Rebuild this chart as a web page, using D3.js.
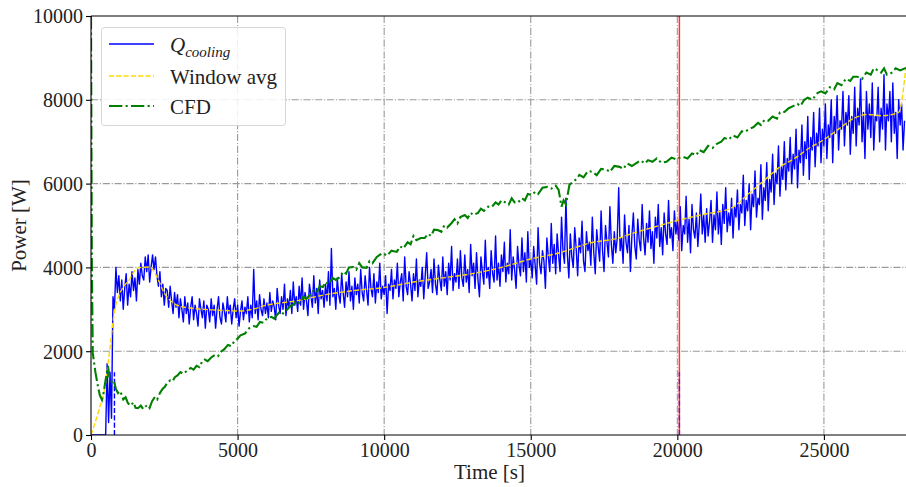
<!DOCTYPE html>
<html>
<head>
<meta charset="utf-8">
<script src="https://cdnjs.cloudflare.com/ajax/libs/d3/7.8.5/d3.min.js"></script>
<style>
  body { margin: 0; background: #fff; }
  svg text { font-family: "Liberation Serif", "DejaVu Serif", serif; fill: #222; }
</style>
</head>
<body>
<script>
// ---- data ----
var xTicks = [0, 5000, 10000, 15000, 20000, 25000];
var yTicks = [0, 2000, 4000, 6000, 8000, 10000];

// Q_cooling, sampled every 50 s starting at t = 0 (one row = 1000 s)
var qStart = 0, qStep = 50;
var qCooling = [
  0,0,0,0,0,0,0,0,0,0,0,1700,300,1500,400,3300,3000,4000,3400,3800,
  3200,3700,3000,3500,3850,3100,3600,3300,3900,3450,3750,3200,3950,3600,4100,3800,3700,4250,3900,4300,
  3650,4000,4300,3950,4250,3800,3550,3900,3300,3600,3100,3500,3450,3050,3550,3200,2900,3400,3050,3350,
  2800,3250,3000,2700,3300,2900,3150,2650,3050,3300,2750,3100,2900,2600,3250,3000,2800,3200,2550,3100,
  3000,2700,3250,2850,3100,2550,3000,3300,2800,2650,3150,2950,2700,3300,2900,3100,2650,3000,3250,2800,
  3100,2600,2950,3200,2750,3050,2900,3300,2700,3100,2800,3950,2900,3200,2750,3350,3000,2850,3250,2900,
  3150,2800,3400,2950,3200,3050,2750,3500,3100,2900,3300,3000,3600,2850,3250,3050,3450,2900,3650,3100,
  3300,2950,3550,3100,3750,3000,3400,3200,2850,3600,3350,3050,3800,3150,3500,2900,3700,3250,3450,3050,
  3600,3200,3900,3100,4450,3300,3500,3000,3750,3350,3150,3850,3400,3050,3650,3300,3900,3200,3550,3000,
  3750,3350,3600,3150,3950,3400,3200,3800,3450,3100,4000,3500,3300,3850,3150,3650,3400,4100,3250,3550,
  3350,3800,2900,3600,3450,3950,3250,3700,3500,4100,3300,3650,3850,3200,4250,3550,3350,3900,3600,3200,
  3850,3450,4200,3300,3700,3550,4000,3250,3800,4350,3500,3650,3950,3400,4200,3600,3350,4050,3700,3450,
  4250,3550,3900,3350,4100,3700,4500,3450,3850,3650,4200,3500,4400,3750,3550,4300,3650,3950,3400,4550,
  3800,4100,3500,4350,3700,3300,4250,3900,3600,4650,3750,4000,3500,4400,3850,3650,4750,3700,4100,3550,
  4300,3900,4600,3650,4100,3850,4900,3700,4250,3950,3500,4500,4050,3800,4700,3900,4350,3650,4850,4000,
  4200,3750,4500,4050,3600,4950,4100,3850,4400,4150,3500,4700,4250,3900,5050,4100,4550,3850,4800,4300,
  3900,5200,4400,4100,5650,4300,3750,4800,4250,4000,4950,4450,3800,4700,4350,5100,4150,3900,4850,4400,
  4600,4050,5200,4350,3850,4900,4500,4150,5350,4400,3900,5000,4600,4250,5450,4550,4100,4850,4350,4700,
  5900,4400,4700,4100,5250,4600,4350,5000,3900,4750,5300,4500,4200,5150,4650,4400,5500,4700,4300,5050,
  4600,5350,4450,4850,4100,5200,4700,5500,4500,4950,4300,5300,4800,4550,5600,4700,4950,4400,5350,4800,
  5100,4650,5450,4400,5000,4800,5700,4600,5150,4350,5500,4900,4700,5300,4500,5050,5750,4800,5250,4600,
  5400,4750,5100,5600,4600,5250,4900,5800,4800,5350,4550,5500,5050,5900,4850,5300,5000,5650,4700,5450,
  5200,5850,4900,5500,5300,6200,5000,5600,5350,6000,4900,5750,5450,6300,5200,5650,5500,6450,5150,5900,
  5600,6500,5350,6100,5800,6700,5500,6250,6000,6900,5700,6400,6100,7000,5850,6600,6300,7100,6000,6700,
  6350,7300,5900,6800,6500,7400,6200,7000,6600,7600,6100,7100,6800,7700,6400,7200,6900,7800,6500,7300,
  6900,7900,6600,7400,7100,8000,6500,7600,7200,8100,6800,7500,7300,8200,6900,7700,7400,8100,6700,7600,
  7200,8300,6900,7800,7400,8500,7000,7700,6600,8200,7300,7900,7100,8400,6800,7600,7500,8300,7000,7800,
  7300,8600,6800,7900,7500,8200,7000,8400,7200,7700,6600,8000,7400,7900,6800,7500
];

var avgTime = [0, 250, 500, 650, 800, 1000, 1300, 1600, 2000, 2250, 2500, 2850, 3200, 4300, 5100, 5500, 6000, 7000, 8000, 9000, 10000, 11000, 12000, 13000, 14000, 15000, 16000, 17000, 18000, 18500, 19400, 20000, 21000, 21800, 22500, 23000, 23500, 24000, 24500, 25000, 25500, 26000, 26500, 27000, 27550, 27800];
var avgPower = [0, 550, 1250, 2100, 2950, 3400, 3700, 3990, 4010, 3770, 3390, 3130, 3050, 2980, 2960, 3000, 3100, 3200, 3350, 3450, 3520, 3650, 3750, 3850, 4000, 4200, 4350, 4580, 4700, 4820, 5000, 5120, 5280, 5400, 5800, 6100, 6400, 6600, 6850, 7050, 7300, 7550, 7650, 7620, 7700, 8800];

// CFD as [time, power]
var cfdPoints = [
  [0,10000],[30,4000],[60,1960],[150,1500],[240,1150],[300,950],[375,840],[430,1000],[480,1240],[530,1450],
  [580,1650],[630,1350],[715,1270],[780,1300],[850,1100],[920,1000],[1000,1050],[1100,850],[1180,900],[1260,760],
  [1350,700],[1450,780],[1520,650],[1600,640],[1700,700],[1780,620],[1860,680],[1940,720],[2000,650],[2080,800],
  [2180,910],[2260,850],[2350,1000],[2440,1100],[2520,1150],[2600,1250],[2700,1300],[2780,1280],[2860,1380],[2950,1420],
  [3050,1500],[3150,1460],[3300,1550],[3400,1600],[3500,1560],[3600,1650],[3700,1620],[3780,1740],[3880,1800],[3980,1760],
  [4100,1850],[4230,1910],[4330,1880],[4450,2000],[4550,2050],[4670,2150],[4780,2120],[4900,2250],[5000,2300],[5100,2380],
  [5250,2420],[5400,2550],[5550,2600],[5650,2580],[5760,2700],[5880,2680],[6000,2780],[6150,2820],[6250,2780],[6340,2860],
  [6450,2950],[6550,2900],[6700,3000],[6800,3080],[6890,3100],[7000,3200],[7100,3150],[7250,3300],[7350,3250],[7460,3340],
  [7600,3450],[7700,3400],[7800,3550],[7910,3530],[8000,3650],[8100,3600],[8250,3750],[8350,3700],[8490,3770],[8600,3900],
  [8700,3850],[8800,4000],[8940,4010],[9050,3950],[9150,4100],[9250,4000],[9400,3990],[9500,4150],[9600,4100],[9750,4250],
  [9850,4300],[9950,4340],[10100,4280],[10250,4400],[10430,4370],[10550,4500],[10650,4450],[10800,4600],[10900,4550],[11000,4750],
  [11100,4650],[11250,4700],[11380,4700],[11500,4800],[11600,4750],[11700,4900],[11830,4890],[11950,4850],[12050,5000],[12150,4950],
  [12300,5060],[12400,5150],[12500,5050],[12600,5200],[12750,5250],[12850,5180],[12950,5300],[13050,5250],[13200,5300],[13300,5400],
  [13400,5350],[13550,5450],[13670,5440],[13800,5550],[13900,5500],[14000,5600],[14110,5560],[14250,5500],[14350,5650],[14450,5550],
  [14550,5540],[14700,5650],[14800,5600],[14900,5750],[15030,5730],[15150,5800],[15250,5750],[15400,5900],[15570,5920],[15700,5880],
  [15850,5950],[15950,5850],[16050,5450],[16120,5600],[16200,5500],[16320,5970],[16450,6050],[16550,6100],[16660,6210],[16800,6150],
  [16950,6300],[17110,6280],[17250,6200],[17400,6350],[17590,6330],[17700,6280],[17850,6420],[18030,6400],[18150,6350],[18300,6480],
  [18450,6420],[18600,6490],[18750,6550],[18900,6480],[19000,6560],[19150,6520],[19300,6600],[19450,6500],[19630,6520],[19800,6620],
  [19950,6580],[20180,6640],[20350,6600],[20500,6720],[20650,6680],[20750,6800],[20900,6750],[21050,6900],[21200,6850],[21350,6950],
  [21500,7000],[21610,7090],[21750,7050],[21900,7150],[22050,7100],[22200,7250],[22290,7230],[22450,7300],[22600,7350],[22750,7450],
  [22850,7400],[22970,7520],[23100,7500],[23250,7600],[23400,7550],[23500,7700],[23650,7710],[23800,7800],[23950,7850],[24100,7900],
  [24200,7850],[24330,8000],[24450,8050],[24600,8000],[24780,8160],[24900,8200],[25050,8150],[25200,8300],[25350,8250],[25460,8400],
  [25600,8350],[25750,8500],[25900,8450],[26000,8550],[26140,8550],[26300,8500],[26450,8650],[26600,8600],[26700,8750],[26820,8710],
  [26950,8650],[27050,8750],[27150,8600],[27300,8640],[27450,8750],[27600,8700],[27800,8760]
];

var redLineTime = 20070;
var markTime = [800, 20070];   // short blue dashed marks
var markPower = 1500;

var legendNames = ["Window avg", "CFD"];

// ---- layout ----
var W = 906, H = 487;
var mLeft = 91, mRight = 906, mTop = 16, mBottom = 435;

var x = d3.scaleLinear().domain([0, 27800]).range([mLeft, mRight]);
var y = d3.scaleLinear().domain([0, 10000]).range([mBottom, mTop]);

var svg = d3.select("body").append("svg")
    .attr("width", W)
    .attr("height", H);

svg.append("defs").append("clipPath").attr("id", "clip")
  .append("rect")
    .attr("x", mLeft).attr("y", mTop)
    .attr("width", mRight - mLeft).attr("height", mBottom - mTop);

// grid
var grid = svg.append("g")
    .attr("stroke", "#9a9a9a")
    .attr("stroke-width", 1.1)
    .attr("stroke-dasharray", "7.1,1.8,1.1,1.8");
grid.selectAll("line.gx")
  .data(xTicks.slice(1))
  .enter().append("line")
    .attr("x1", function(d) { return x(d); })
    .attr("x2", function(d) { return x(d); })
    .attr("y1", mTop).attr("y2", mBottom);
grid.selectAll("line.gy")
  .data(yTicks.slice(1, -1))
  .enter().append("line")
    .attr("y1", function(d) { return y(d); })
    .attr("y2", function(d) { return y(d); })
    .attr("x1", mLeft).attr("x2", mRight);

var plot = svg.append("g").attr("clip-path", "url(#clip)");

// Q cooling
var qLine = d3.line()
    .x(function(d, i) { return x(qStart + i * qStep); })
    .y(function(d) { return y(d); });
plot.append("path")
    .datum(qCooling)
    .attr("d", qLine)
    .attr("fill", "none")
    .attr("stroke", "#0000ff")
    .attr("stroke-width", 1.4)
    .attr("stroke-linejoin", "round");

// dashed blue marks
plot.selectAll("line.mark")
  .data(markTime)
  .enter().append("line")
    .attr("x1", function(d) { return x(d); })
    .attr("x2", function(d) { return x(d); })
    .attr("y1", y(0)).attr("y2", y(markPower))
    .attr("stroke", "#0000ff")
    .attr("stroke-width", 1.4)
    .attr("stroke-dasharray", "5.1,2.2");

// window average
var avgLine = d3.line()
    .x(function(d, i) { return x(avgTime[i]); })
    .y(function(d) { return y(d); })
    .curve(d3.curveMonotoneX);
plot.append("path")
    .datum(avgPower)
    .attr("d", avgLine)
    .attr("fill", "none")
    .attr("stroke", "#ffd700")
    .attr("stroke-width", 1.4)
    .attr("stroke-dasharray", "5.1,2.2");

// CFD
var cfdLine = d3.line()
    .x(function(d) { return x(d[0]); })
    .y(function(d) { return y(d[1]); });
plot.append("path")
    .datum(cfdPoints)
    .attr("d", cfdLine)
    .attr("fill", "none")
    .attr("stroke", "#008000")
    .attr("stroke-width", 2.1)
    .attr("stroke-dasharray", "13.3,3.3,2.1,3.3");

// red vertical
plot.append("line")
    .attr("x1", x(redLineTime)).attr("x2", x(redLineTime))
    .attr("y1", mTop).attr("y2", mBottom)
    .attr("stroke", "#ff0000")
    .attr("stroke-opacity", 0.8)
    .attr("stroke-width", 1.5);

// spines
var spines = svg.append("g").attr("stroke", "#000").attr("stroke-width", 1.1);
spines.append("line").attr("x1", mLeft).attr("x2", mLeft).attr("y1", mTop).attr("y2", mBottom);
spines.append("line").attr("x1", mLeft).attr("x2", mRight).attr("y1", mBottom).attr("y2", mBottom);
spines.append("line").attr("x1", mLeft).attr("x2", mRight).attr("y1", mTop).attr("y2", mTop);

// axes
var xAxis = svg.append("g")
    .attr("transform", "translate(0," + mBottom + ")")
    .call(d3.axisBottom(x).tickValues(xTicks).tickSize(5).tickPadding(3).tickFormat(d3.format("d")));
var yAxis = svg.append("g")
    .attr("transform", "translate(" + mLeft + ",0)")
    .call(d3.axisLeft(y).tickValues(yTicks).tickSize(5).tickPadding(3).tickFormat(d3.format("d")));
[xAxis, yAxis].forEach(function(a) {
  a.select(".domain").remove();
  a.selectAll(".tick line").attr("stroke", "#000").attr("stroke-width", 1.1);
  a.selectAll(".tick text")
      .attr("fill", "#222")
      .style("font-family", '"Liberation Serif", serif')
      .style("font-size", "20px");
});
yAxis.selectAll(".tick text").attr("dy", "0.34em");

svg.append("text")
    .attr("x", (mLeft + mRight) / 2 - 9)
    .attr("y", 479)
    .attr("text-anchor", "middle")
    .style("font-size", "21px")
    .text("Time [s]");
svg.append("text")
    .attr("transform", "translate(26," + (mTop + mBottom) / 2 + ")rotate(-90)")
    .attr("text-anchor", "middle")
    .style("font-size", "21px")
    .text("Power [W]");

// legend
var lg = svg.append("g");
lg.append("rect")
    .attr("x", 101.5).attr("y", 27.5)
    .attr("width", 184).attr("height", 98)
    .attr("rx", 3)
    .attr("fill", "#fff").attr("fill-opacity", 0.85)
    .attr("stroke", "#d6d6d6");
var rows = [
  {y: 44, stroke: "#0000ff", w: 1.4, dash: null},
  {y: 76, stroke: "#ffd700", w: 1.4, dash: "5.1,2.2"},
  {y: 106, stroke: "#008000", w: 2.1, dash: "13.3,3.3,2.1,3.3"}
];
lg.selectAll("line.lgl")
  .data(rows)
  .enter().append("line")
    .attr("x1", 109).attr("x2", 154)
    .attr("y1", function(d) { return d.y; })
    .attr("y2", function(d) { return d.y; })
    .attr("stroke", function(d) { return d.stroke; })
    .attr("stroke-width", function(d) { return d.w; })
    .attr("stroke-dasharray", function(d) { return d.dash; });

var qLabel = lg.append("text")
    .attr("x", 170).attr("y", 52)
    .style("font-size", "21px")
    .style("font-style", "italic");
qLabel.append("tspan").text("Q");
qLabel.append("tspan").attr("dy", 5).style("font-size", "15px").text("cooling");

lg.selectAll("text.lgt")
  .data(legendNames)
  .enter().append("text")
    .attr("x", 170)
    .attr("y", function(d, i) { return rows[i + 1].y + 8; })
    .style("font-size", "21px")
    .text(function(d) { return d; });
</script>
</body>
</html>
